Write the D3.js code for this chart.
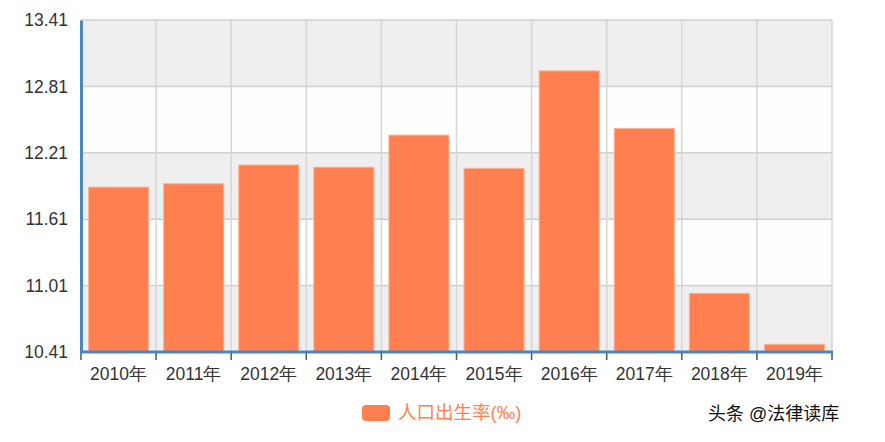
<!DOCTYPE html>
<html><head><meta charset="utf-8">
<script src="https://cdn.jsdelivr.net/npm/d3@7"></script>
<style>body{margin:0;background:#fff;}svg{display:block;font-family:"Liberation Sans",Arial,"Noto Sans CJK SC",sans-serif;}</style>
</head><body>
<svg id="c" width="885" height="442"></svg>
<script>
const categories = ["2010年","2011年","2012年","2013年","2014年","2015年","2016年","2017年","2018年","2019年"];
const birthRate = [11.90, 11.93, 12.10, 12.08, 12.37, 12.07, 12.95, 12.43, 10.94, 10.48];
const yTicks = [10.41, 11.01, 11.61, 12.21, 12.81, 13.41];
const seriesName = "人口出生率(‰)";
const watermark = "头条 @法律读库";

const svg = d3.select("#c");
const L = 81, R = 832, T = 20, B = 352;
const xb = d3.scaleBand().domain(categories).range([L, R]).padding(0);
const y = d3.scaleLinear().domain([10.41, 13.41]).range([B, T]);

// bands
const g = svg.append("g");
for (let i = 0; i < yTicks.length - 1; i++) {
  g.append("rect").attr("x", L).attr("width", R - L)
    .attr("y", y(yTicks[i+1])).attr("height", y(yTicks[i]) - y(yTicks[i+1]))
    .attr("fill", i % 2 === 0 ? "#efefef" : "#fefefe");
}
// horizontal grid
g.selectAll("line.h").data(yTicks).join("line")
  .attr("x1", L).attr("x2", R).attr("y1", d => y(d)).attr("y2", d => y(d))
  .attr("stroke", "#d0d0d0").attr("stroke-width", 1.5);
// vertical grid
const bounds = categories.map(c => xb(c)).concat([R]);
g.selectAll("line.v").data(bounds).join("line")
  .attr("x1", d => d).attr("x2", d => d).attr("y1", T).attr("y2", B)
  .attr("stroke", "#d6d6d6").attr("stroke-width", 1.5);

// bars
svg.append("g").selectAll("rect").data(birthRate).join("rect")
  .attr("x", (d, i) => xb(categories[i]) + xb.bandwidth() * 0.1)
  .attr("width", xb.bandwidth() * 0.8)
  .attr("y", d => y(d)).attr("height", d => B - y(d))
  .attr("fill", "#ff7f50").attr("stroke", "#ffb393").attr("stroke-width", 1);

// y axis
const ya = svg.append("g").attr("transform", `translate(${L},0)`)
  .call(d3.axisLeft(y).tickValues(yTicks).tickSize(0).tickPadding(13).tickFormat(d3.format(".2f")));
ya.select(".domain").attr("stroke", "#4a87bd").attr("stroke-width", 3);
ya.selectAll("text").attr("font-size", 17.5).attr("fill", "#333").attr("font-family", "Liberation Sans, Arial, sans-serif");

// x axis
const xa = svg.append("g").attr("transform", `translate(0,${B})`)
  .call(d3.axisBottom(xb).tickSize(0).tickPadding(16));
xa.select(".domain").remove();
xa.selectAll("text").attr("font-size", 17.5).attr("fill", "#333").attr("dy", "0.71em");
svg.append("line").attr("x1", L - 1).attr("x2", R + 1).attr("y1", B).attr("y2", B)
  .attr("stroke", "#4a87bd").attr("stroke-width", 3);
svg.append("g").selectAll("line").data(bounds).join("line")
  .attr("x1", d => d).attr("x2", d => d).attr("y1", B + 1).attr("y2", B + 8)
  .attr("stroke", "#555").attr("stroke-width", 1.5);

// legend
const lg = svg.append("g");
lg.append("rect").attr("x", 362).attr("y", 405).attr("width", 28).attr("height", 16).attr("rx", 4)
  .attr("fill", "#ff7f50");
lg.append("text").attr("x", 398).attr("y", 413).attr("dy", "0.35em")
  .attr("font-size", 18.5).attr("fill", "#ff7f50").text(seriesName);

// watermark
svg.append("text").attr("x", 708).attr("y", 414).attr("dy", "0.35em")
  .attr("font-size", 18).attr("fill", "#111")
  .attr("style", "paint-order:stroke;stroke:#fff;stroke-width:1.5px")
  .text(watermark);
</script>
</body></html>
